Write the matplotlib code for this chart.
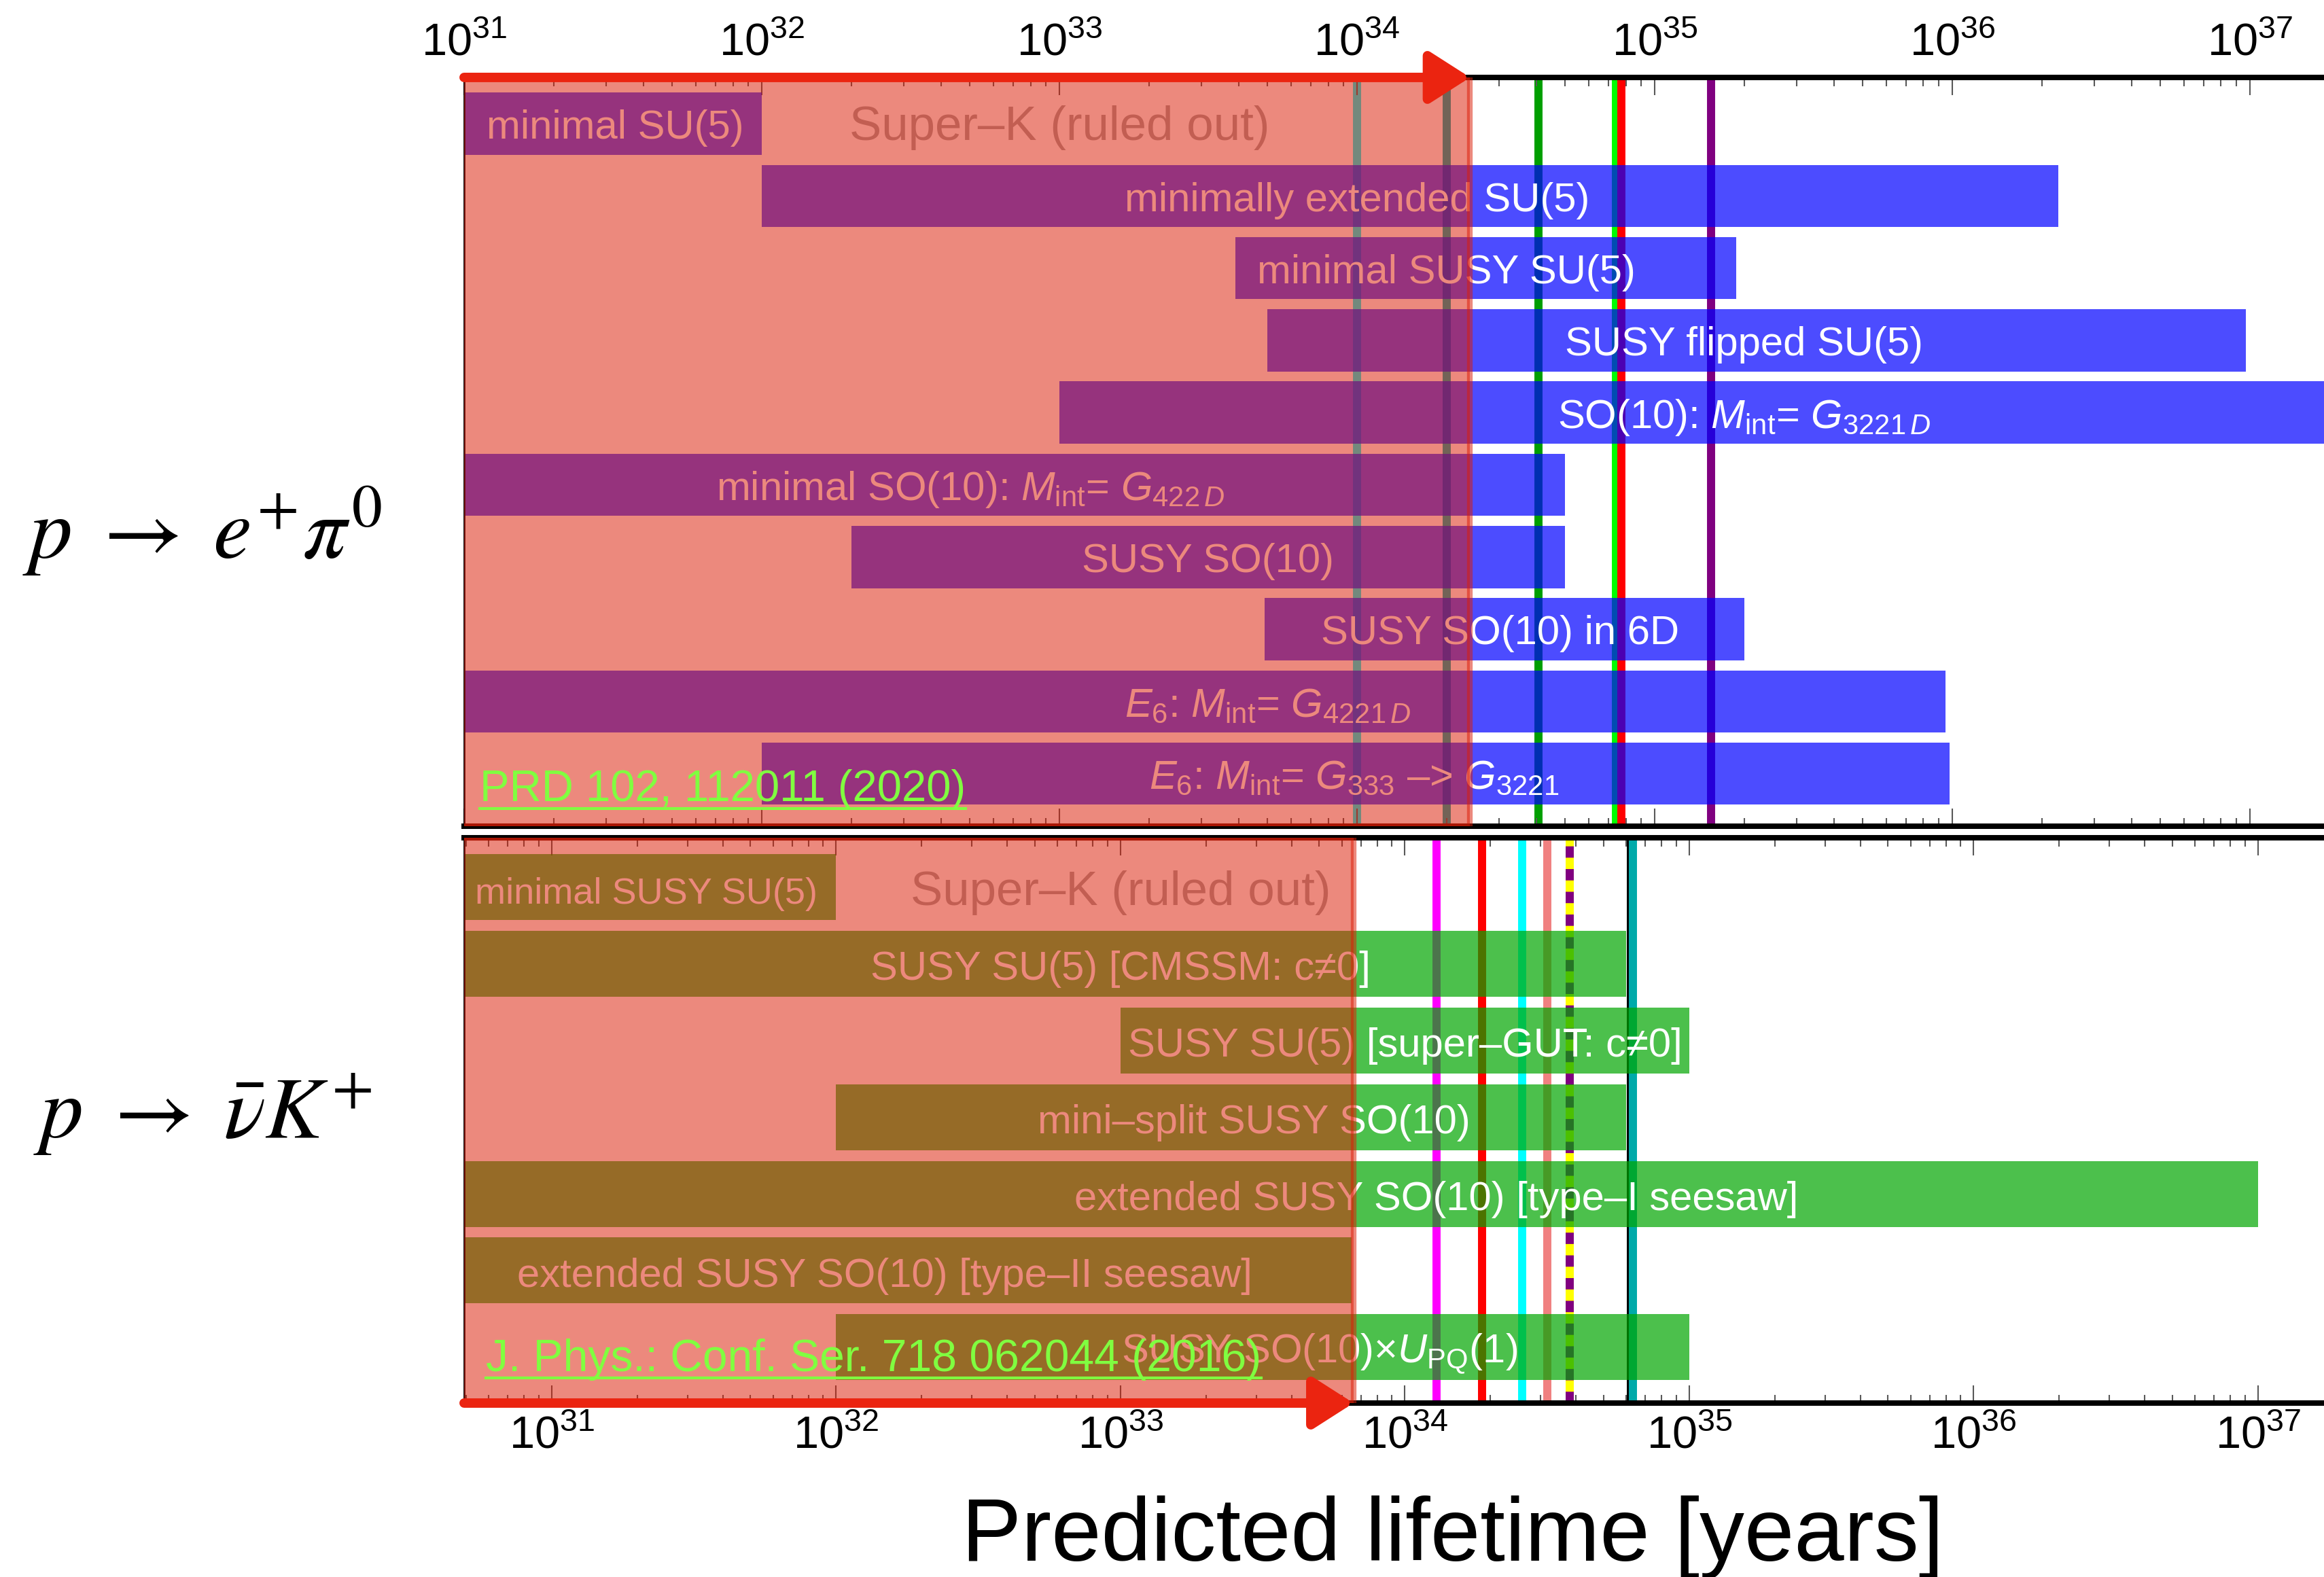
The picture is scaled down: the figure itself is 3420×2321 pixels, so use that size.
import numpy as np
import matplotlib
matplotlib.use('Agg')
import matplotlib.pyplot as plt
from matplotlib import font_manager
from matplotlib.ticker import LogLocator, FixedLocator, NullFormatter
from matplotlib.lines import Line2D
from matplotlib.patches import ArrowStyle
import matplotlib.patheffects as pe

plt.rcParams['font.family'] = ['Liberation Sans', 'DejaVu Sans']
plt.rcParams['mathtext.fontset'] = 'custom'
plt.rcParams['mathtext.rm'] = 'Liberation Sans'
plt.rcParams['mathtext.it'] = 'Liberation Sans:italic'
plt.rcParams['mathtext.bf'] = 'Liberation Sans:bold'

installed = {f.name for f in font_manager.fontManager.ttflist}
tick_font = 'Liberation Sans Narrow' if 'Liberation Sans Narrow' in installed else 'Liberation Sans'

# ---- p -> e+ pi0 : predicted lifetime ranges [years]
epi_models = ['minimal SU(5)', 'minimally extended SU(5)', 'minimal SUSY SU(5)',
              'SUSY flipped SU(5)', r'SO(10): $M_{\rm int}$= $G_{3221\,D}$',
              r'minimal SO(10): $M_{\rm int}$= $G_{422\,D}$', 'SUSY SO(10)',
              'SUSY SO(10) in 6D', r'$E_6$: $M_{\rm int}$= $G_{4221\,D}$',
              r'$E_6$: $M_{\rm int}$= $G_{333}$ –> $G_{3221}$']
epi_lo = [1e31, 1e32, 3.9e33, 5.0e33, 1.0e33, 1e31, 2.0e32, 4.9e33, 1e31, 1e32]
epi_hi = [1e32, 2.27e36, 1.88e35, 9.7e36, 1e38, 5.0e34, 5.0e34, 2.0e35, 9.5e35, 9.8e35]
epi_superk = 2.4e34
epi_lines = [1.0e34, 2.0e34, 4.07e34, 7.4e34, 7.75e34, 1.55e35]
epi_line_colors = ['#00ffff', '#00b0b0', '#009f00', '#00ff00', '#ff0000', '#800080']
epi_ref = 'PRD 102, 112011 (2020)'

# ---- p -> nubar K+
nuk_models = ['minimal SUSY SU(5)', 'SUSY SU(5) [CMSSM: c≠0]',
              'SUSY SU(5) [super–GUT: c≠0]', 'mini–split SUSY SO(10)',
              'extended SUSY SO(10) [type–I seesaw]',
              'extended SUSY SO(10) [type–II seesaw]',
              r'SUSY SO(10)×$U_{\rm PQ}$(1)']
nuk_lo = [1e30, 1e30, 1e33, 1e32, 1e30, 1e30, 1e32]
nuk_hi = [1e32, 6.0e34, 1e35, 6.0e34, 1e37, 6.5e33, 1e35]
nuk_superk = 6.6e33
nuk_lines = [1.29e34, 1.87e34, 2.58e34, 3.16e34, 6.24e34, 6.35e34]
nuk_line_colors = ['#ff00ff', '#ff0000', '#00ffff', '#f08080', '#000000', '#00aaaa']
nuk_dashed = 3.8e34
nuk_ref = 'J. Phys.: Conf. Ser. 718 062044 (2016)'

decades = [1e31, 1e32, 1e33, 1e34, 1e35, 1e36, 1e37]

# label anchors (log10 of x); first row is left-aligned, the rest centred
epi_label_pos = [31.075, 34.0, 34.30, 35.30, 35.30, 32.70, 33.50, 34.48, 33.70, 33.99]
nuk_label_pos = [30.73, 33.0, 34.0, 33.47, 34.11, 32.17, 33.70]

sk_color = (0.863, 0.114, 0.024)
arrow_color = '#eb2410'
LW = 8.6

fig = plt.figure(figsize=(34.2, 23.21), dpi=100, facecolor='white')
ax1 = fig.add_axes([0.1997, 0.4761, 0.8003, 0.4748])
ax2 = fig.add_axes([0.1997, 0.1103, 0.8003, 0.3585])


def draw_panel(ax, models, lo, hi, label_pos, bar_color, superk, lines, line_colors,
               xlim, ylim, first_size):
    y = np.arange(len(models))
    for x, c in zip(lines, line_colors):
        ax.axvline(x, color=c, lw=LW, zorder=1.2)
    ax.barh(y, np.array(hi) - np.array(lo), left=lo, height=0.86, color=bar_color,
            alpha=0.7, lw=0, zorder=2)
    for i, name in enumerate(models):
        if i == 0:
            ax.text(10 ** label_pos[i], i + 0.21, name, ha='left', va='baseline',
                    color='white', fontsize=first_size, zorder=2.2)
        else:
            ax.text(10 ** label_pos[i], i + 0.21, name, ha='center', va='baseline',
                    color='white', fontsize=43, zorder=2.2)
    ax.text(1e33, 0.23, 'Super–K (ruled out)', ha='center', va='baseline',
            color='0.65', fontsize=51, zorder=2.2)
    ax.axvspan(1e29, superk, facecolor=sk_color, edgecolor=sk_color, alpha=0.52,
               lw=6, zorder=3)

    ax.set_xscale('log')
    ax.set_xlim(*xlim)
    ax.set_ylim(*ylim)
    ax.set_yticks([])
    ax.xaxis.set_major_locator(FixedLocator(decades))
    ax.xaxis.set_minor_locator(LogLocator(base=10, subs=np.arange(2, 10), numticks=20))
    ax.xaxis.set_minor_formatter(NullFormatter())
    ax.tick_params(axis='x', which='both', direction='in', top=True, bottom=True,
                   color='0.35', width=1.5, labelsize=48, labelfontfamily=tick_font)
    ax.tick_params(axis='x', which='major', length=19)
    ax.tick_params(axis='x', which='minor', length=9)
    ax.spines['top'].set_linewidth(5.8)
    ax.spines['bottom'].set_linewidth(5.8)
    ax.spines['left'].set_linewidth(2)
    ax.spines['right'].set_visible(False)

    # red arrow pointing to the Super-K limit
    yref = 1 if ax is ax1 else 0
    ann = ax.annotate('', xy=(superk, yref), xytext=(xlim[0], yref),
                      xycoords=ax.get_xaxis_transform(),
                      textcoords=ax.get_xaxis_transform(),
                      arrowprops=dict(arrowstyle=ArrowStyle('-|>', head_length=0.5,
                                                            head_width=0.32),
                                      mutation_scale=72, lw=10, color=arrow_color,
                                      shrinkA=0, shrinkB=0),
                      annotation_clip=False, zorder=6)
    ann.arrow_patch.set_path_effects([pe.SimplePatchShadow(offset=(2, -3), alpha=0.3),
                                      pe.Normal()])


draw_panel(ax1, epi_models, epi_lo, epi_hi, epi_label_pos, (0, 0, 1), epi_superk,
           epi_lines, epi_line_colors, (1e31, 10 ** 37.249), (9.727, -0.64), 43)
draw_panel(ax2, nuk_models, nuk_lo, nuk_hi, nuk_label_pos, (0, 0.65, 0), nuk_superk,
           nuk_lines, nuk_line_colors, (10 ** 30.692, 10 ** 37.232), (6.73, -0.647), 39)

# dashed two-colour line in the lower panel
ax2.axvline(nuk_dashed, color='#ffff00', lw=LW, zorder=1.2)
ax2.axvline(nuk_dashed, color='#800080', lw=LW, ls=(0, (1.4, 1.4)), zorder=1.25)

ax1.tick_params(axis='x', labeltop=True, labelbottom=False, pad=13)
ax2.tick_params(axis='x', labeltop=False, labelbottom=True, pad=13)

# reference links
t1 = ax1.text(0.0084, 0.0336, epi_ref, transform=ax1.transAxes, color='#80ff40',
              fontsize=47, va='baseline', zorder=5)
t2 = ax2.text(0.0117, 0.0565, nuk_ref, transform=ax2.transAxes, color='#80ff40',
              fontsize=47.5, va='baseline', zorder=5)

fig.text(0.0097, 0.6458, r'$p\;\rightarrow\;e^{+}\pi^{0}$', fontsize=92,
         math_fontfamily='stix', va='baseline', ha='left')
fig.text(0.0143, 0.2783, r'$p\;\rightarrow\;\bar{\nu}K^{+}$', fontsize=92,
         math_fontfamily='stix', va='baseline', ha='left')
fig.text(0.625, 0.0103, 'Predicted lifetime [years]', fontsize=95, ha='center',
         va='baseline')

# underline the reference text
fig.canvas.draw()
renderer = fig.canvas.get_renderer()
for t, ax, drop in [(t1, ax1, 11), (t2, ax2, 10)]:
    bb = t.get_window_extent(renderer)
    base = ax.transAxes.transform(t.get_position())[1]
    inv = ax.transAxes.inverted()
    (x0, yl), (x1, _) = inv.transform([(bb.x0, base - drop), (bb.x1, base - drop)])
    ax.add_line(Line2D([x0, x1], [yl, yl], transform=ax.transAxes, color='#80ff40',
                       lw=3, zorder=5))

fig.savefig('out.png', dpi=100, facecolor='white')
